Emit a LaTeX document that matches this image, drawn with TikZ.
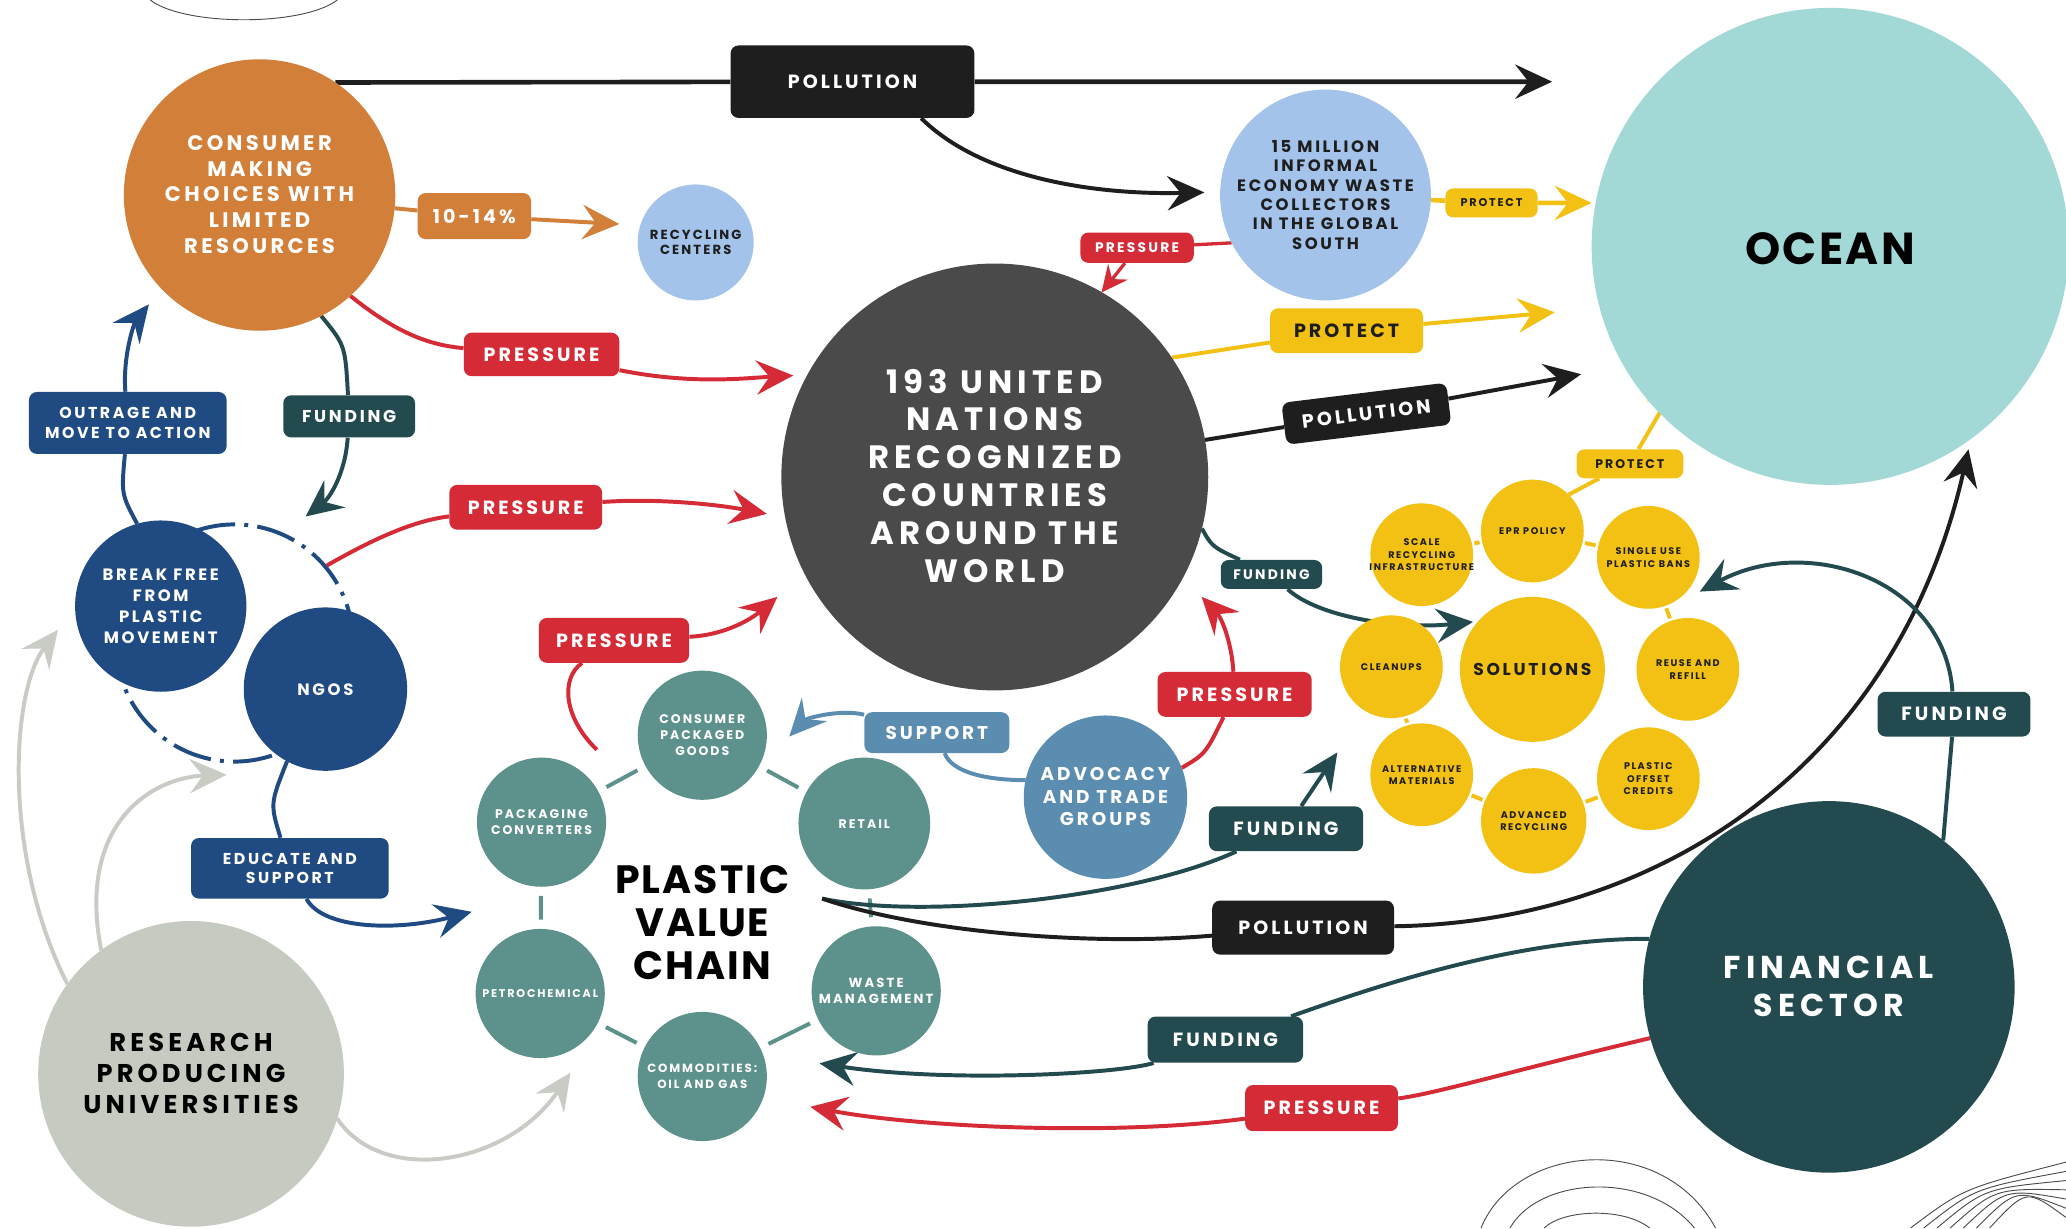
\documentclass[tikz,border=0pt]{standalone}
\usepackage{fontspec}
\setmainfont{Poppins}[LetterSpace=16]
\newfontfamily\tightfont{Poppins}[LetterSpace=5]
\usetikzlibrary{arrows.meta,backgrounds}

\definecolor{orng}{HTML}{D27F3A}
\definecolor{prsred}{HTML}{D42B36}
\definecolor{fundteal}{HTML}{234B4F}
\definecolor{navy}{HTML}{1F4A82}
\definecolor{steel}{HTML}{5A8DB0}
\definecolor{pvcteal}{HTML}{5D918C}
\definecolor{solyel}{HTML}{F2C114}
\definecolor{resgray}{HTML}{C6CBC1}
\definecolor{arrgray}{HTML}{C8CCC5}
\definecolor{skyblue}{HTML}{A3C3EA}
\definecolor{oceanc}{HTML}{A2D8D6}
\definecolor{ungray}{HTML}{4A4A4A}
\definecolor{inkblack}{HTML}{1E1E1E}

\newcommand{\fsz}[2]{\fontsize{#1}{#2}\selectfont\bfseries}
\newcommand{\ctr}[1]{\makebox[0pt]{\smash{\raisebox{-.35em}{\begin{tabular}{@{}c@{}}#1\end{tabular}}}}}

\begin{document}
\begin{tikzpicture}[x=1pt,y=-1pt,
  bubble/.style={circle,inner sep=0pt,outer sep=0pt},
  tag/.style={rectangle,rounded corners=6pt,inner sep=2pt,text=white,align=center,font=\fsz{14.5}{17}},
  flow/.style={line width=3pt,-{Stealth[length=28pt,width=26pt,inset=10pt]}},
  thinflow/.style={line width=2.5pt,-{Stealth[length=20pt,width=19pt,inset=7pt]}},
  link/.style={line width=3pt,shorten <=7pt,shorten >=7pt},
  deco/.style={draw=black!70,line width=0.7pt}]
\useasboundingbox (0,0) rectangle (1568,932);

% circles
\node[bubble,fill=orng,minimum size=206,text=white,font=\fsz{16}{19.5}] (consumer) at (197,148) {\ctr{CONSUMER\\MAKING\\CHOICES WITH\\LIMITED\\RESOURCES}};
\node[bubble,fill=skyblue,minimum size=88,text=inkblack,font=\fsz{10}{12}] (recycle) at (528,184) {\ctr{RECYCLING\\CENTERS}};
\node[bubble,fill=skyblue,minimum size=160,text=inkblack,font=\fsz{12.5}{14.7}] (collect) at (1006,148) {\ctr{15 MILLION\\INFORMAL\\ECONOMY WASTE\\COLLECTORS\\IN THE GLOBAL\\SOUTH}};
\node[bubble,fill=oceanc,minimum size=362,text=black,font=\tightfont\fsz{34}{40}] (ocean) at (1389,187) {\ctr{OCEAN}};
\node[bubble,fill=ungray,minimum size=324,text=white,font=\fsz{24.5}{28.7}] (un) at (755,362) {\ctr{193 UNITED\\NATIONS\\RECOGNIZED\\COUNTRIES\\AROUND THE\\WORLD}};
\node[bubble,fill=navy,minimum size=130,text=white,font=\fsz{12.5}{16}] (bfree) at (122,460) {\ctr{BREAK FREE\\FROM\\PLASTIC\\MOVEMENT}};
\node[bubble,fill=navy,minimum size=124,text=white,font=\fsz{12.5}{16}] (ngos) at (247,523) {\ctr{NGOS}};
\node[bubble,fill=steel,minimum size=124,text=white,font=\fsz{14}{17}] (adv) at (839,605) {\ctr{ADVOCACY\\AND TRADE\\GROUPS}};
\node[bubble,fill=resgray,minimum size=232,text=black,font=\fsz{19.5}{23.5}] (res) at (145,815) {\ctr{RESEARCH\\PRODUCING\\UNIVERSITIES}};
\node[bubble,fill=fundteal,minimum size=282,text=white,font=\fsz{24}{28.5}] (fin) at (1388,749) {\ctr{FINANCIAL\\SECTOR}};

% plastic value chain
\node[bubble,fill=pvcteal,minimum size=98,text=white,font=\fsz{9.5}{12.2}] (cpg) at (533,558) {\ctr{CONSUMER\\PACKAGED\\GOODS}};
\node[bubble,fill=pvcteal,minimum size=98,text=white,font=\fsz{9.5}{12.2}] (pack) at (411,624) {\ctr{PACKAGING\\CONVERTERS}};
\node[bubble,fill=pvcteal,minimum size=100,text=white,font=\fsz{9.5}{12.2}] (retail) at (656,625) {\ctr{RETAIL}};
\node[bubble,fill=pvcteal,minimum size=98,text=white,font=\fsz{8.5}{12.2}] (petro) at (410,754) {\ctr{PETROCHEMICAL}};
\node[bubble,fill=pvcteal,minimum size=98,text=white,font=\fsz{9}{12.2}] (commod) at (533,817) {\ctr{COMMODITIES:\\OIL AND GAS}};
\node[bubble,fill=pvcteal,minimum size=98,text=white,font=\fsz{10}{12.5}] (waste) at (665,752) {\ctr{WASTE\\MANAGEMENT}};
\node[text=black,align=center,font=\tightfont\fsz{30}{32.5}] (pvc) at (533,700) {PLASTIC\\VALUE\\CHAIN};

% solutions
\node[bubble,fill=solyel,minimum size=110,text=inkblack,font=\fsz{13}{15}] (sol) at (1163,508) {\ctr{SOLUTIONS}};
\node[bubble,fill=solyel,minimum size=78,text=inkblack,font=\fsz{7.3}{9.6}] (epr) at (1163,403) {\ctr{EPR POLICY}};
\node[bubble,fill=solyel,minimum size=78,text=inkblack,font=\fsz{7.3}{9.6}] (scale) at (1079,421) {\ctr{SCALE\\RECYCLING\\INFRASTRUCTURE}};
\node[bubble,fill=solyel,minimum size=78,text=inkblack,font=\fsz{7.3}{9.6}] (single) at (1251,423) {\ctr{SINGLE USE\\PLASTIC BANS}};
\node[bubble,fill=solyel,minimum size=78,text=inkblack,font=\fsz{7.3}{9.6}] (clean) at (1056,506) {\ctr{CLEANUPS}};
\node[bubble,fill=solyel,minimum size=78,text=inkblack,font=\fsz{7.3}{9.6}] (reuse) at (1281,508) {\ctr{REUSE AND\\REFILL}};
\node[bubble,fill=solyel,minimum size=78,text=inkblack,font=\fsz{7.3}{9.6}] (altmat) at (1079,588) {\ctr{ALTERNATIVE\\MATERIALS}};
\node[bubble,fill=solyel,minimum size=80,text=inkblack,font=\fsz{7.3}{9.6}] (advrec) at (1164,623) {\ctr{ADVANCED\\RECYCLING}};
\node[bubble,fill=solyel,minimum size=78,text=inkblack,font=\fsz{7.3}{9.6}] (offset) at (1251,591) {\ctr{PLASTIC\\OFFSET\\CREDITS}};

% tags
\node[tag,fill=inkblack,minimum width=185,minimum height=55] (poll1) at (647,62) {POLLUTION};
\node[tag,fill=orng,minimum width=86,minimum height=35] (pct) at (360,164) {10-14\%};
\node[tag,fill=prsred,minimum width=118,minimum height=33] (prs1) at (411,269) {PRESSURE};
\node[tag,fill=fundteal,minimum width=100,minimum height=32,font=\fsz{13}{15}] (fund1) at (265,316) {FUNDING};
\node[tag,fill=navy,minimum width=150,minimum height=47,font=\fsz{12}{14.5}] (outrage) at (97,321) {OUTRAGE AND\\MOVE TO ACTION};
\node[tag,fill=prsred,minimum width=116,minimum height=34] (prs2) at (399,385) {PRESSURE};
\node[tag,fill=prsred,minimum width=114,minimum height=34] (prs3) at (466,486) {PRESSURE};
\node[tag,fill=prsred,minimum width=86,minimum height=23,font=\fsz{10.5}{12}] (prs4) at (863,188) {PRESSURE};
\node[tag,fill=solyel,text=inkblack,minimum width=70,minimum height=22,font=\fsz{8.5}{10}] (prt1) at (1132,154) {PROTECT};
\node[tag,fill=solyel,text=inkblack,minimum width=116,minimum height=34] (prt2) at (1022,251) {PROTECT};
\node[tag,fill=inkblack,minimum width=126,minimum height=32,rotate=7] (poll2) at (1037,314) {POLLUTION};
\node[tag,fill=solyel,text=inkblack,minimum width=81,minimum height=22,font=\fsz{9.5}{11}] (prt3) at (1237,352) {PROTECT};
\node[tag,fill=fundteal,minimum width=77,minimum height=22,font=\fsz{10.5}{12}] (fund2) at (965,436) {FUNDING};
\node[tag,fill=prsred,minimum width=117,minimum height=34] (prs5) at (937,527) {PRESSURE};
\node[tag,fill=steel,minimum width=110,minimum height=31,font=\fsz{14}{16}] (support) at (711,556) {SUPPORT};
\node[tag,fill=fundteal,minimum width=117,minimum height=34] (fund3) at (976,629) {FUNDING};
\node[tag,fill=inkblack,minimum width=138,minimum height=41] (poll3) at (989,704) {POLLUTION};
\node[tag,fill=fundteal,minimum width=116,minimum height=34] (fund4) at (1483,542) {FUNDING};
\node[tag,fill=fundteal,minimum width=118,minimum height=35] (fund5) at (930,789) {FUNDING};
\node[tag,fill=prsred,minimum width=116,minimum height=35] (prs6) at (1003,841) {PRESSURE};
\node[tag,fill=navy,minimum width=150,minimum height=46,font=\fsz{12}{14.3}] (educ) at (220,659) {EDUCATE AND\\SUPPORT};

% page ornaments
\draw[deco] (114,0) .. controls (140,20) and (230,20) .. (256,0);
\draw[deco] (1124,932) .. controls (1150,868) and (1262,858) .. (1302,932);
\draw[deco] (1146,932) .. controls (1168,893) and (1250,888) .. (1286,932);
\draw[deco] (1172,932) .. controls (1186,918) and (1232,916) .. (1252,932);
\foreach \i in {0,...,6}
  \draw[deco] (1450+10*\i,932) .. controls (1490+8*\i,902) .. (1568,882+7*\i);

\begin{scope}[on background layer]
\fill[white] (0,0) rectangle (1568,932);
\node[circle,minimum size=180,draw=navy,line width=3pt,dash pattern=on 30pt off 7pt on 3pt off 7pt] (ring) at (178,488) {};

\coordinate (tipA) at (1178,62);
\coordinate (tipB) at (914,146);
\coordinate (tipC) at (470,170);
\coordinate (tipD) at (602,285);
\coordinate (tipE) at (232,392);
\coordinate (tipF) at (113,231);
\coordinate (tipG) at (582,390);
\coordinate (startH) at (453,569);
\coordinate (tipH) at (590,453);
\coordinate (tipI) at (836,222);
\coordinate (tipK) at (1180,237);
\coordinate (tipL) at (1200,284);
\coordinate (tipM) at (1275,287);
\coordinate (tipN) at (1118,472);
\coordinate (tipO) at (912,453);
\coordinate (tipP) at (599,559);
\coordinate (chainR) at (624,682);
\coordinate (tipQ) at (1015,571);
\coordinate (tipR) at (1494,341);
\coordinate (tipS) at (1290,449);
\coordinate (tipT) at (622,807);
\coordinate (tipU) at (615,840);
\coordinate (tipV) at (358,692);
\coordinate (tipW) at (44,478);
\coordinate (tipX) at (172,588);
\coordinate (tipY) at (433,814);

% chain links
\draw[link,pvcteal] (pack) -- (cpg);
\draw[link,pvcteal] (cpg) -- (retail);
\draw[link,pvcteal] (retail) -- (waste);
\draw[link,pvcteal] (waste) -- (commod);
\draw[link,pvcteal] (commod) -- (petro);
\draw[link,pvcteal] (petro) -- (pack);
\draw[link,solyel,shorten <=2pt,shorten >=2pt] (scale) -- (epr);
\draw[link,solyel,shorten <=2pt,shorten >=2pt] (epr) -- (single);
\draw[link,solyel,shorten <=2pt,shorten >=2pt] (single) -- (reuse);
\draw[link,solyel,shorten <=2pt,shorten >=2pt] (clean) -- (altmat);
\draw[link,solyel,shorten <=2pt,shorten >=2pt] (altmat) -- (advrec);
\draw[link,solyel,shorten <=2pt,shorten >=2pt] (advrec) -- (offset);

% flows
\draw[flow,inkblack,line width=3.5pt] (consumer.56) -- (poll1) -- (tipA);
\draw[flow,inkblack] (poll1.-28) .. controls (745,135) and (830,148) .. (tipB);
\draw[flow,orng] (consumer) -- (pct) -- (tipC);
\draw[flow,prsred] (consumer.-48) .. controls (300,252) and (325,262) .. (prs1) .. controls (525,292) and (565,287) .. (tipD);
\draw[flow,fundteal] (consumer.-63) .. controls (262,262) .. (fund1) .. controls (262,360) and (250,378) .. (tipE);
\draw[flow,navy] (bfree.106) .. controls (92,375) .. (outrage) .. controls (93,270) and (102,245) .. (tipF);
\draw[flow,prsred] (ring.40) .. controls (285,408) and (315,395) .. (prs2) .. controls (500,378) and (545,383) .. (tipG);
\draw[flow,prsred] (startH) .. controls (428,545) and (425,515) .. (prs3) .. controls (550,482) and (570,470) .. (tipH);
\draw[thinflow,prsred] (collect.207) -- (prs4) -- (tipI);
\draw[flow,solyel,line width=3.5pt] (collect) -- (prt1) -- (prt1 -| ocean.west);
\draw[flow,solyel] (un.34) -- (prt2) -- (tipK);
\draw[flow,inkblack] (un.10) -- (poll2) -- (tipL);
\draw[flow,solyel] (epr.45) .. controls (1210,365) .. (prt3) -- (tipM);
\draw[flow,fundteal] (un.-14) .. controls (920,415) .. (fund2) .. controls (1000,468) and (1060,478) .. (tipN);
\draw[flow,prsred] (adv.21) .. controls (915,572) .. (prs5) .. controls (935,490) and (928,470) .. (tipO);
\draw[flow,steel] (adv.168) .. controls (745,592) and (722,585) .. (support) .. controls (638,538) and (612,545) .. (tipP);
\draw[flow,fundteal] (chainR) .. controls (700,698) and (860,682) .. (fund3) -- (tipQ);
\draw[flow,inkblack] (chainR) .. controls (700,708) and (830,718) .. (poll3) .. controls (1260,700) and (1440,580) .. (tipR);
\draw[flow,fundteal] (fin.52) -- (fund4) .. controls (1476,440) and (1372,405) .. (tipS);
\draw[flow,fundteal] (fin.165) .. controls (1150,712) and (1040,750) .. (fund5) .. controls (850,815) and (720,822) .. (tipT);
\draw[flow,prsred] (fin.196) .. controls (1150,812) and (1090,830) .. (prs6) .. controls (850,862) and (700,856) .. (tipU);
\draw[flow,navy] (ngos.-118) .. controls (205,610) .. (educ) .. controls (245,705) and (300,707) .. (tipV);
\draw[flow,arrgray] (res.144) .. controls (2,650) and (8,525) .. (tipW);
\draw[flow,arrgray] (res.126) .. controls (58,625) and (115,590) .. (tipX);
\draw[flow,arrgray] (res.-17) .. controls (290,900) and (385,885) .. (tipY);
\end{scope}
\end{tikzpicture}
\end{document}
